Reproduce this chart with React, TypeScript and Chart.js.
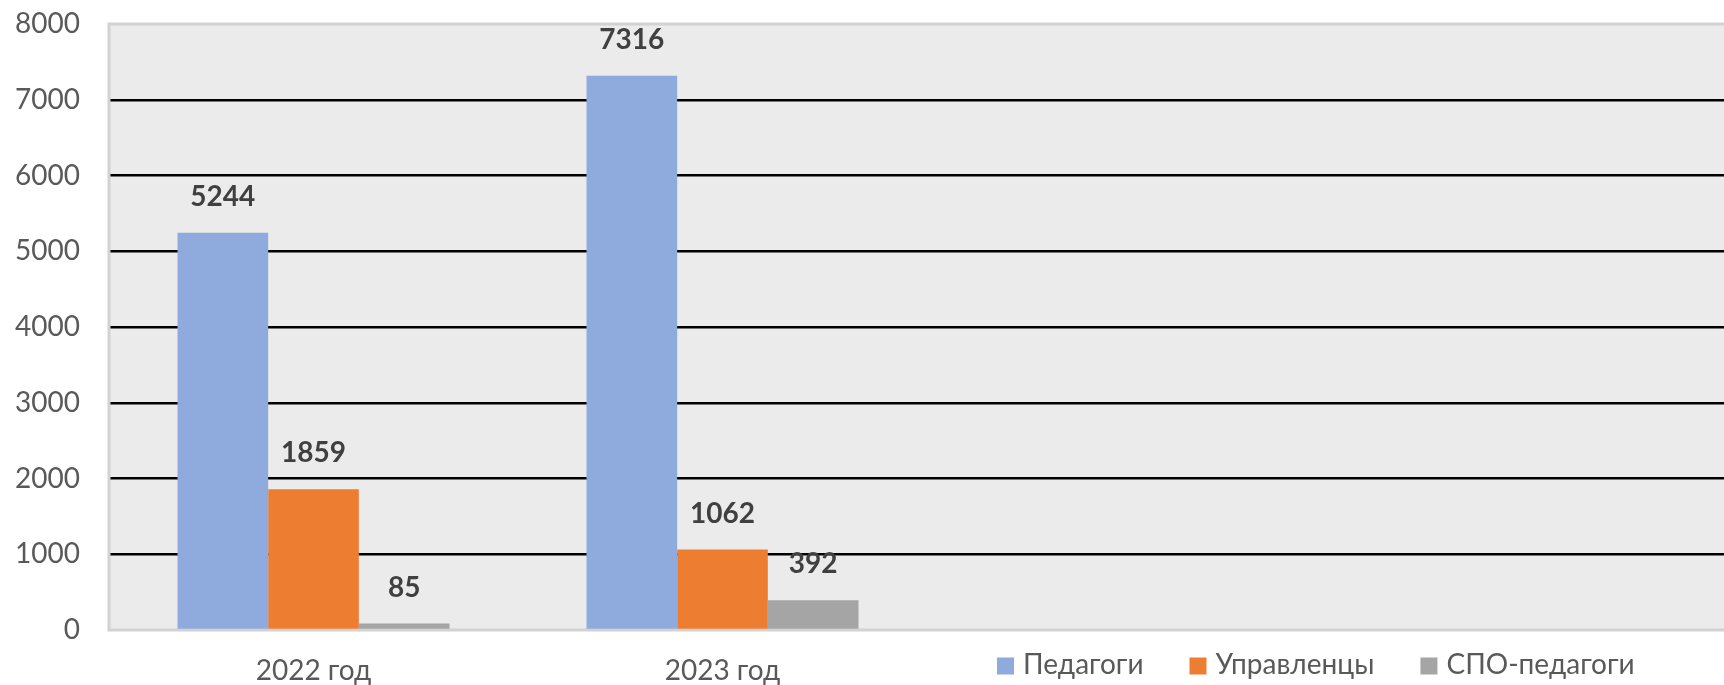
import React, { useEffect, useRef } from "react";
import { Chart, registerables } from "chart.js";

Chart.register(...registerables);

// ---- data ----
const categories = ["2022 год", "2023 год", "", ""];
const seriesNames = ["Педагоги", "Управленцы", "СПО-педагоги"];
const pedagogi = [5244, 7316, null, null];
const upravlency = [1859, 1062, null, null];
const spoPedagogi = [85, 392, null, null];
const seriesColors = ["#8FAADC", "#ED7D31", "#A5A5A5"];
const yMin = 0;
const yMax = 8000;
const yStep = 1000;

const FONT = "Lato, 'Open Sans', sans-serif";
const TEXT_GREY = "#595959";

const backgroundPlugin = {
  id: "plotBg",
  beforeDraw(chart: any) {
    const { ctx, chartArea } = chart;
    ctx.save();
    ctx.fillStyle = "#ffffff";
    ctx.fillRect(0, 0, chart.width, chart.height);
    ctx.fillStyle = "#EBEBEB";
    ctx.fillRect(chartArea.left, chartArea.top, chartArea.right - chartArea.left, chartArea.bottom - chartArea.top);
    ctx.restore();
  },
  beforeDatasetsDraw(chart: any) {
    const { ctx, chartArea } = chart;
    ctx.save();
    ctx.strokeStyle = "#D2D2D2";
    ctx.lineWidth = 3;
    ctx.beginPath();
    ctx.moveTo(chartArea.right + 5, chartArea.top);
    ctx.lineTo(chartArea.left, chartArea.top);
    ctx.lineTo(chartArea.left, chartArea.bottom);
    ctx.lineTo(chartArea.right + 5, chartArea.bottom);
    ctx.stroke();
    ctx.restore();
  },
};

const valueLabelPlugin = {
  id: "valueLabels",
  afterDatasetsDraw(chart: any) {
    const { ctx } = chart;
    ctx.save();
    ctx.font = `bold 28px ${FONT}`;
    ctx.fillStyle = "#404040";
    ctx.textAlign = "center";
    ctx.textBaseline = "middle";
    chart.data.datasets.forEach((ds: any, i: number) => {
      const meta = chart.getDatasetMeta(i);
      meta.data.forEach((bar: any, j: number) => {
        const v = ds.data[j];
        if (v === null || v === undefined) return;
        ctx.fillText(String(v), bar.x, bar.y - 36);
      });
    });
    ctx.restore();
  },
};

const legendPlugin = {
  id: "customLegend",
  afterDraw(chart: any) {
    const { ctx } = chart;
    ctx.save();
    ctx.font = `28px ${FONT}`;
    ctx.textBaseline = "middle";
    ctx.textAlign = "left";
    let x = 997;
    const yc = 665;
    const box = 17;
    chart.data.datasets.forEach((ds: any) => {
      ctx.fillStyle = ds.backgroundColor;
      ctx.fillRect(x, yc - box / 2 + 1, box, box);
      ctx.fillStyle = TEXT_GREY;
      ctx.fillText(ds.label, x + 26, yc);
      x += 26 + ctx.measureText(ds.label).width + 46;
    });
    ctx.restore();
  },
};

export default function App() {
  const canvasRef = useRef<HTMLCanvasElement | null>(null);

  useEffect(() => {
    document.body.style.margin = "0";
    document.body.style.overflow = "hidden";
    const canvas = canvasRef.current;
    if (!canvas) return;
    const seriesValues = [pedagogi, upravlency, spoPedagogi];
    const chart = new Chart(canvas, {
      type: "bar",
      data: {
        labels: categories,
        datasets: seriesNames.map((name, i) => ({
          label: name,
          data: seriesValues[i],
          backgroundColor: seriesColors[i],
          borderWidth: 0,
          barPercentage: 1,
          categoryPercentage: 0.665,
        })),
      },
      options: {
        responsive: false,
        animation: false,
        layout: { padding: { top: 24, right: 0, left: 0, bottom: 0 } },
        plugins: {
          legend: { display: false },
          tooltip: { enabled: false },
        },
        scales: {
          x: {
            grid: { display: false },
            border: { display: false },
            ticks: {
              color: TEXT_GREY,
              font: { family: FONT, size: 28 },
              padding: 16,
              maxRotation: 0,
              autoSkip: false,
            },
            afterFit(scale: any) {
              scale.height = 55;
              scale.paddingLeft = 0;
              scale.paddingRight = 0;
            },
          },
          y: {
            min: yMin,
            max: yMax,
            border: { display: false },
            grid: {
              drawTicks: false,
              lineWidth: 2.5,
              color: (c: any) =>
                c.tick && (c.tick.value === yMin || c.tick.value === yMax) ? "rgba(0,0,0,0)" : "#000000",
            },
            ticks: {
              stepSize: yStep,
              color: TEXT_GREY,
              font: { family: FONT, size: 28 },
              padding: 29,
              callback: (v: any) => String(v),
            },
            afterFit(scale: any) {
              scale.width = 109;
              scale.paddingTop = 0;
              scale.paddingBottom = 0;
            },
          },
        },
      },
      plugins: [backgroundPlugin, valueLabelPlugin, legendPlugin],
    });
    return () => chart.destroy();
  }, []);

  return (
    <div style={{ width: 1724, height: 685, overflow: "hidden", position: "relative" }}>
      <canvas ref={canvasRef} width={1745} height={685} style={{ display: "block" }} />
    </div>
  );
}
